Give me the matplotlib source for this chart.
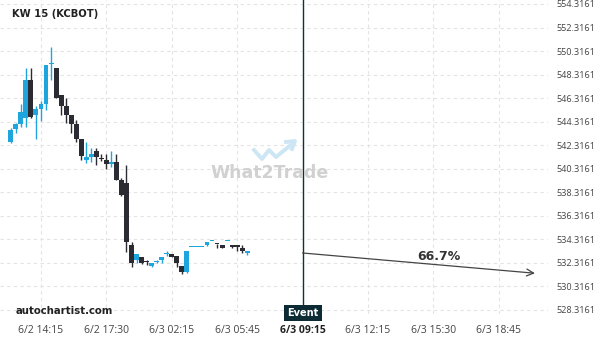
import matplotlib
matplotlib.use("Agg")
import matplotlib.pyplot as plt
import numpy as np

# ---------------- data ----------------
title = "KW 15 (KCBOT)"
opens = [542.59, 543.70, 544.12, 544.63, 547.86, 544.88, 545.39, 545.82, 549.20, 548.88,
         546.58, 545.65, 544.88, 544.12, 542.85, 541.06, 541.32, 541.83, 541.20, 541.06,
         540.72, 540.89, 539.36, 539.11, 533.84, 532.56, 532.82, 532.42, 532.05, 532.39,
         532.56, 533.05, 533.07, 532.90, 532.05, 531.54, 533.67, 533.67, 533.67, 533.84,
         534.16, 533.93, 533.84, 534.16, 533.84, 533.84, 533.58, 533.16]
highs = [543.78, 544.21, 545.82, 548.88, 548.88, 545.65, 546.07, 549.13, 550.66, 548.88,
         546.58, 546.33, 544.88, 544.46, 542.85, 542.59, 542.08, 542.08, 541.57, 541.57,
         541.83, 541.57, 539.53, 540.64, 534.09, 533.07, 532.82, 532.56, 532.31, 532.56,
         532.82, 533.33, 533.07, 532.90, 532.05, 533.33, 533.67, 533.67, 533.67, 534.09,
         534.18, 533.93, 533.84, 534.18, 533.84, 533.84, 533.84, 533.33]
lows = [542.51, 543.36, 543.87, 543.87, 544.63, 542.85, 544.38, 545.31, 547.86, 546.33,
        544.88, 544.21, 543.36, 542.59, 541.06, 540.81, 540.89, 540.64, 540.98, 540.30,
        540.47, 539.36, 538.00, 533.25, 531.97, 532.31, 532.22, 532.14, 531.97, 532.31,
        532.31, 532.90, 532.82, 531.97, 531.37, 531.45, 533.67, 533.67, 533.67, 533.75,
        534.18, 533.58, 533.58, 534.18, 533.58, 533.33, 533.16, 532.99]
closes = [543.61, 544.12, 545.14, 547.86, 544.72, 545.39, 545.82, 549.13, 549.22, 546.33,
          545.65, 544.88, 544.12, 542.85, 541.40, 541.32, 541.57, 541.32, 541.15, 540.72,
          540.89, 539.36, 538.09, 534.09, 532.31, 533.07, 532.31, 532.39, 532.31, 532.42,
          532.82, 533.07, 532.82, 532.31, 531.54, 533.33, 533.68, 533.68, 533.68, 534.09,
          534.18, 533.92, 533.58, 534.18, 533.67, 533.67, 533.33, 533.33]
tick_idx = [6, 19, 32, 45, 58, 71, 84, 97]
tick_labels = ["6/2 14:15", "6/2 17:30", "6/3 02:15", "6/3 05:45",
               "6/3 09:15", "6/3 12:15", "6/3 15:30", "6/3 18:45"]
ytick_vals = [528.3161 + 2 * k for k in range(14)]
event_idx = 58
event_price = 533.16
target_idx = 104.2
target_price = 531.44
pct_label = "66.7%"

# ---------------- style ----------------
UP = "#1ea5dd"
DOWN = "#2b2b34"
GRID = "#e3e3e3"

W, H = 600, 340
fig = plt.figure(figsize=(W / 100, H / 100), dpi=100)
ax_right = 548
ax_bottom = 314
ax = fig.add_axes([0, 1 - ax_bottom / H, ax_right / W, ax_bottom / H])

px_per_unit = 306 / 26.0
y_top = 554.3161 + 4 / px_per_unit
y_bot = y_top - ax_bottom / px_per_unit
x0, pitch = 10.8, 5.03
ax.set_xlim(-x0 / pitch, (ax_right - x0) / pitch)
ax.set_ylim(y_bot, y_top)

for s in ax.spines.values():
    s.set_visible(False)

# grid
for v in ytick_vals:
    ax.axhline(v, color=GRID, lw=0.8, ls=(0, (3, 3)), zorder=0)
for t in tick_idx:
    ax.axvline(t, color=GRID, lw=0.8, ls=(0, (3, 3)), zorder=0)

# candles
o = np.array(opens); h = np.array(highs); l = np.array(lows); c = np.array(closes)
idx = np.arange(len(o))
col = [UP if cc >= oo else DOWN for oo, cc in zip(o, c)]
bottoms = np.minimum(o, c)
heights = np.maximum(np.abs(c - o), 0.09)
ax.vlines(idx, l, h, colors=col, lw=1.0, zorder=2)
ax.bar(idx, heights, bottom=bottoms, width=0.98, color=col, linewidth=0, zorder=3)

# event line
ax.axvline(event_idx, ymin=(ax_bottom - 305) / ax_bottom, ymax=1, color="#13303a", lw=1.0, zorder=4)

# arrow projection
ax.annotate("", xy=(target_idx, target_price), xytext=(event_idx, event_price),
            arrowprops=dict(arrowstyle="->,head_length=0.5,head_width=0.25",
                            color="#444444", lw=0.9, shrinkA=0, shrinkB=0), zorder=5)
ax.text(85.1, 532.82, pct_label, ha="center", va="center", fontsize=9,
        fontweight="bold", color="#333333", family="DejaVu Sans", zorder=6)

# ticks
ax.set_xticks(tick_idx)
ax.set_xticklabels(tick_labels, family="Open Sans", fontsize=7.5, color="#444444")
ax.get_xticklabels()[4].set_fontweight("bold")
ax.get_xticklabels()[4].set_color("#222222")
ax.tick_params(axis="x", length=0, pad=8)
ax.yaxis.tick_right()
ax.set_yticks(ytick_vals)
ax.set_yticklabels([f"{v:.4f}" for v in ytick_vals], family="Open Sans",
                   fontsize=6.6, color="#444444")
ax.tick_params(axis="y", length=0, pad=6)

# title / branding
fig.text(12 / W, 1 - 14 / H, title, fontsize=7.2, fontweight="bold",
         color="#222222", va="center", ha="left", family="DejaVu Sans")
fig.text(16 / W, 1 - 311 / H, "autochartist.com", fontsize=7.3, fontweight="bold",
         color="#222222", va="center", ha="left", family="DejaVu Sans")
fig.text(303 / W, 1 - 313 / H, "Event", fontsize=7, fontweight="bold", color="white",
         ha="center", va="center", family="DejaVu Sans",
         bbox=dict(boxstyle="square,pad=0.35", fc="#0d2b35", ec="none"), zorder=10)

# watermark
fig.text(270 / W, 1 - 173 / H, "What2Trade", fontsize=12.5, fontweight="bold",
         color="#cccccc", ha="center", va="center", family="DejaVu Sans", alpha=0.9, zorder=1)
logo_x = np.array([254, 262, 269, 276, 292]) / W
logo_y = 1 - np.array([150, 159, 150, 157, 144]) / H
fig.add_artist(plt.Line2D(logo_x, logo_y, transform=fig.transFigure, color="#cde6f3",
                          lw=2.8, zorder=1))
fig.add_artist(plt.Line2D(np.array([286, 295, 292]) / W, 1 - np.array([142, 141, 149]) / H,
                          transform=fig.transFigure, color="#cde6f3", lw=2.8, zorder=1))

fig.savefig("out.png", dpi=100)
